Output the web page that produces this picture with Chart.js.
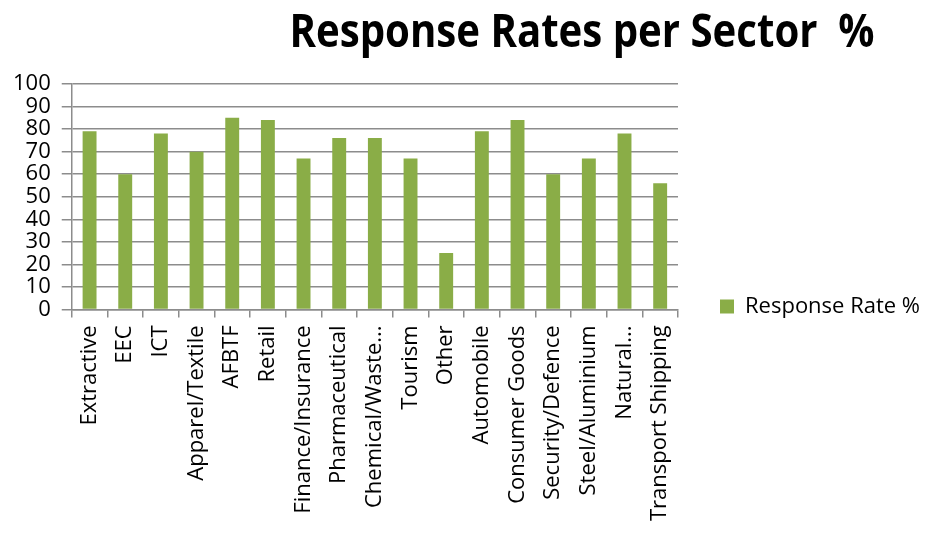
<!DOCTYPE html>
<html>
<head>
<meta charset="utf-8">
<script src="https://cdn.jsdelivr.net/npm/chart.js@4/dist/chart.umd.min.js"></script>
<style>
  html, body { margin: 0; padding: 0; background: #ffffff; }
  #wrap { width: 929px; height: 534px; }
</style>
</head>
<body>
<div id="wrap"><canvas id="c" width="929" height="534"></canvas></div>
<script>
const chartTitle = "Response Rates per Sector  %";
const seriesName = "Response Rate %";
const categories = ["Extractive", "EEC", "ICT", "Apparel/Textile", "AFBTF", "Retail",
  "Finance/Insurance", "Pharmaceutical", "Chemical/Waste...", "Tourism", "Other",
  "Automobile", "Consumer Goods", "Security/Defence", "Steel/Aluminium", "Natural...",
  "Transport Shipping"];
const responseRates = [79, 60, 78, 70, 85, 84, 67, 76, 76, 67, 25, 79, 84, 60, 67, 78, 56];
const yTicks = [0, 10, 20, 30, 40, 50, 60, 70, 80, 90, 100];

const FONT = "'Open Sans', sans-serif";
const LEGEND_WIDTH = 251;

const titlePlugin = {
  id: 'customTitle',
  afterDraw(chart) {
    const ctx = chart.ctx;
    ctx.save();
    ctx.font = "bold 46px " + FONT;
    ctx.fillStyle = "#000000";
    ctx.textAlign = "center";
    ctx.textBaseline = "alphabetic";
    const w = ctx.measureText(chartTitle).width;
    const sx = 585 / w;
    ctx.translate(582, 47);
    ctx.scale(sx, 1);
    ctx.fillText(chartTitle, 0, 0);
    ctx.restore();
  }
};

// widen the legend box beyond Chart.js's default half-width cap
const legendWidthPlugin = {
  id: 'legendWidth',
  beforeLayout(chart) {
    const lg = chart.legend;
    if (lg && !lg._wideFit) {
      const orig = lg.fit;
      lg.fit = function () {
        orig.call(this);
        this.width = LEGEND_WIDTH;
      };
      lg._wideFit = true;
    }
  }
};

new Chart(document.getElementById('c'), {
  type: 'bar',
  data: {
    labels: categories,
    datasets: [{
      label: seriesName,
      data: responseRates,
      backgroundColor: '#8AAD47',
      borderWidth: 0,
      categoryPercentage: 1.0,
      barPercentage: 0.39
    }]
  },
  options: {
    responsive: false,
    animation: false,
    layout: { padding: { top: 84, left: 2, right: 0, bottom: 5 } },
    plugins: {
      title: { display: false },
      tooltip: { enabled: false },
      legend: {
        position: 'right',
        align: 'center',
        labels: {
          font: { family: FONT, size: 22 },
          color: '#000000',
          boxWidth: 14,
          boxHeight: 14,
          padding: 42
        }
      }
    },
    scales: {
      y: {
        min: 0,
        max: 100,
        afterBuildTicks(axis) { axis.ticks = yTicks.map(v => ({ value: v })); },
        ticks: {
          font: { family: FONT, size: 22 },
          color: '#000000',
          padding: 11,
          autoSkip: false
        },
        grid: {
          color: '#8c8c8c',
          lineWidth: 1.5,
          tickLength: 10,
          drawTicks: true
        },
        border: { display: true, color: '#8c8c8c', width: 1.5 }
      },
      x: {
        ticks: {
          font: { family: FONT, size: 22 },
          color: '#000000',
          minRotation: 90,
          maxRotation: 90,
          autoSkip: false,
          padding: 8
        },
        grid: {
          display: true,
          drawOnChartArea: false,
          drawTicks: true,
          tickLength: 8,
          offset: true,
          color: '#8c8c8c',
          lineWidth: 1.5
        },
        border: { display: true, color: '#8c8c8c', width: 1.5 }
      }
    }
  },
  plugins: [legendWidthPlugin, titlePlugin]
});
</script>
</body>
</html>
